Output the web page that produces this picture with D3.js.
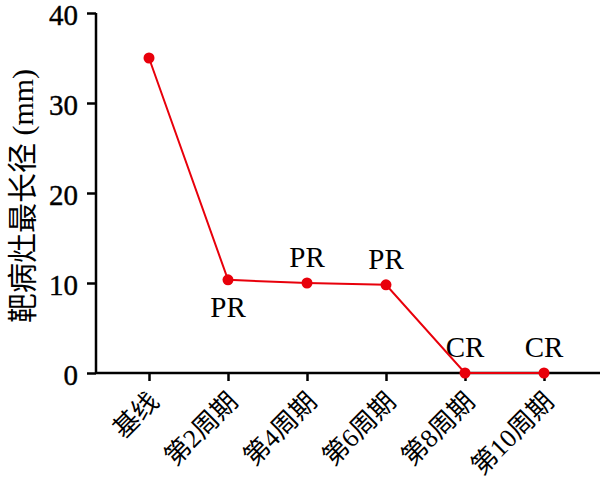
<!DOCTYPE html>
<html><head><meta charset="utf-8">
<script src="https://cdn.jsdelivr.net/npm/d3@7"></script>
<style>body{margin:0;background:#fff}</style>
</head><body>
<svg id="c" width="600" height="497"></svg>
<script>
const categories = ["基线","第2周期","第4周期","第6周期","第8周期","第10周期"];
const values = [35.0, 10.35, 10.0, 9.8, 0, 0];
const responses = ["", "PR", "PR", "PR", "CR", "CR"];
const labelBelow = [false, true, false, false, false, false];
const yTicks = [0, 10, 20, 30, 40];

(function(){
const svg = d3.select("#c");
const mL = 96, mR = 600, mT = 13, mB = 373;
const x = d3.scalePoint().domain(categories).range([149, 544]);
const y = d3.scaleLinear().domain([0, 40]).range([mB, mT]);
const red = "#e8000b";
const serif = "'Liberation Serif','Times New Roman',serif";
const cjk = "'Liberation Serif','Noto Sans CJK SC',serif";

// Y axis
const ya = svg.append("g").attr("transform", `translate(${mL},0)`)
  .call(d3.axisLeft(y).tickValues(yTicks).tickSize(9).tickPadding(9).tickFormat(d3.format("d")));
ya.select(".domain").attr("d", `M0,${mT}V${mB}`).attr("stroke", "#000").attr("stroke-width", 2.5);
ya.selectAll(".tick line").attr("stroke", "#000").attr("stroke-width", 2.5);
ya.selectAll(".tick text").attr("font-family", serif).attr("font-size", 29).attr("fill", "#000")
  .attr("stroke", "#000").attr("stroke-width", 0.4).attr("dy", "0.4em");

// X axis
const xa = svg.append("g").attr("transform", `translate(0,${mB})`)
  .call(d3.axisBottom(x).tickSize(8).tickPadding(4));
xa.select(".domain").attr("d", `M${mL},0H${mR}`).attr("stroke", "#000").attr("stroke-width", 2.5);
xa.selectAll(".tick line").attr("stroke", "#000").attr("stroke-width", 2.5);
xa.selectAll(".tick text")
  .attr("font-family", cjk).attr("font-size", 26).attr("fill", "#000")
  .attr("text-anchor", "end").attr("dy", null).attr("y", 0)
  .attr("transform", "translate(11,30) rotate(-45)");

// Y label
svg.append("text")
  .attr("transform", "translate(33,196) rotate(-90)")
  .attr("text-anchor", "middle")
  .attr("font-family", cjk).attr("font-size", 30).attr("fill", "#000")
  .text("靶病灶最长径 (mm)");

// Line
const data = categories.map((c, i) => ({c, v: values[i], r: responses[i], below: labelBelow[i]}));
svg.append("path").datum(data)
  .attr("fill", "none").attr("stroke", red).attr("stroke-width", 2)
  .attr("d", d3.line().x(d => x(d.c)).y(d => y(d.v)));
svg.selectAll("circle.pt").data(data).enter().append("circle")
  .attr("cx", d => x(d.c)).attr("cy", d => y(d.v)).attr("r", 5.5).attr("fill", red);

// Response labels
svg.selectAll("text.resp").data(data.filter(d => d.r)).enter().append("text")
  .attr("x", d => x(d.c)).attr("y", d => d.below ? y(d.v) + 37 : y(d.v) - 16)
  .attr("text-anchor", "middle")
  .attr("font-family", serif).attr("font-size", 29).attr("fill", "#000")
  .text(d => d.r);
})();
</script>
</body></html>
